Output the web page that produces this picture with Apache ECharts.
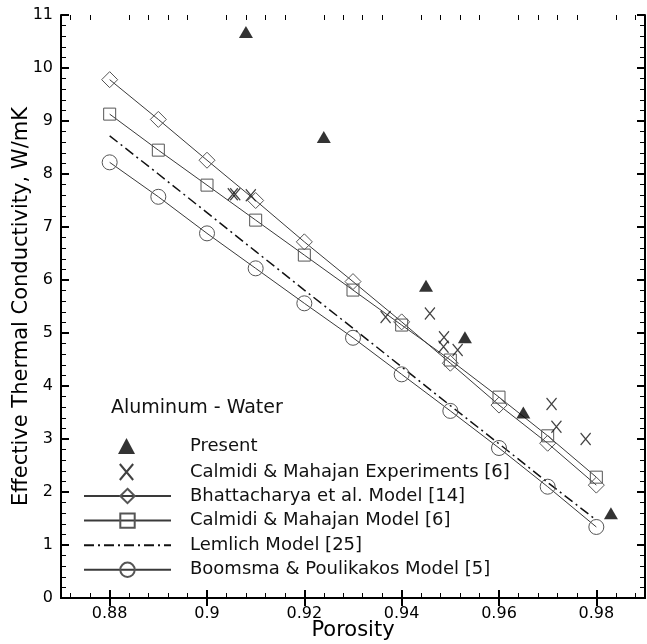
<!DOCTYPE html>
<html>
<head>
<meta charset="utf-8">
<script src="https://cdn.jsdelivr.net/npm/echarts@6/dist/echarts.min.js"></script>
<style>
  html, body { margin: 0; padding: 0; background: #fff; }
  #chart-panel { width: 647px; height: 644px; }
</style>
</head>
<body>
<div id="chart-panel"></div>
<script>
// model curves, evaluated at these porosities
const porosity = [0.88, 0.89, 0.90, 0.91, 0.92, 0.93, 0.94, 0.95, 0.96, 0.97, 0.98];
const bhattacharya = [9.78, 9.03, 8.26, 7.50, 6.72, 5.97, 5.21, 4.43, 3.64, 2.92, 2.13];
const calmidiModel = [9.13, 8.45, 7.79, 7.13, 6.47, 5.81, 5.15, 4.49, 3.79, 3.06, 2.28];
const lemlich = [8.72, 8.00, 7.27, 6.54, 5.81, 5.09, 4.36, 3.63, 2.91, 2.18, 1.47];
const boomsma = [8.22, 7.57, 6.88, 6.22, 5.56, 4.91, 4.22, 3.53, 2.83, 2.10, 1.34];

// measured points
const presentX = [0.908, 0.924, 0.945, 0.953, 0.965, 0.983];
const presentY = [10.68, 8.70, 5.89, 4.92, 3.50, 1.60];
const expX = [0.9053, 0.9058, 0.9090, 0.9367, 0.9458, 0.9487, 0.9486, 0.9515, 0.9708, 0.9718, 0.9778];
const expY = [7.62, 7.62, 7.60, 5.30, 5.37, 4.92, 4.74, 4.68, 3.66, 3.23, 3.00];

const xMajor = [0.88, 0.90, 0.92, 0.94, 0.96, 0.98];
const xMinor = [];
for (let i = 0; i < 30; i++) {
  const k = 872 + 4 * i;
  if (k % 20 !== 0) xMinor.push(k / 1000);
}

const FONT = '"DejaVu Sans", sans-serif';
const zip = (xs, ys) => xs.map((x, i) => [x, ys[i]]);

var myChart = echarts.init(document.getElementById('chart-panel'));

const grid = { left: 61, right: 2, top: 15, bottom: 46, outerBoundsMode: 'none', containLabel: false };
const frame = { lineStyle: { color: '#000', width: 2 } };
const majorTick = values => ({ show: true, inside: true, length: 8, customValues: values, lineStyle: { color: '#000', width: 2 } });
const minorTick = values => ({ show: true, inside: true, length: 5, customValues: values, lineStyle: { color: '#000', width: 1 } });
const legendFont = { fontFamily: FONT, fontSize: 18, color: '#111' };

function modelSeries(name, ys, symbol, size) {
  return {
    name: name,
    type: 'line',
    data: zip(porosity, ys),
    symbol: symbol,
    symbolSize: size,
    showAllSymbol: true,
    lineStyle: { color: '#3a3a3a', width: 1 },
    itemStyle: { color: 'rgba(255,255,255,0)', borderColor: '#555', borderWidth: 1 },
    emphasis: { disabled: true },
    z: 3
  };
}

myChart.setOption({
  animation: false,
  backgroundColor: '#fff',
  textStyle: { fontFamily: FONT },
  grid: [grid, grid],
  title: {
    text: 'Aluminum - Water',
    left: 106, top: 394,
    textStyle: { fontFamily: FONT, fontSize: 19, fontWeight: 'normal', color: '#111' }
  },
  legend: [
    {
      orient: 'vertical',
      left: 113, top: 432,
      itemWidth: 17, itemHeight: 16, itemGap: 8,
      textStyle: Object.assign({ padding: [0, 0, 0, 50] }, legendFont),
      data: ['Present', 'Calmidi & Mahajan Experiments [6]']
    },
    {
      orient: 'vertical',
      left: 78, top: 482,
      itemWidth: 87, itemHeight: 18, itemGap: 6.6,
      textStyle: Object.assign({ padding: [0, 0, 0, 14] }, legendFont),
      data: ['Bhattacharya et al. Model [14]', 'Calmidi & Mahajan Model [6]',
             { name: 'Lemlich Model [25]', itemStyle: { opacity: 0 } },
             'Boomsma & Poulikakos Model [5]']
    }
  ],
  xAxis: [
    {
      gridIndex: 0, type: 'value', min: 0.87, max: 0.99, position: 'bottom',
      name: 'Porosity', nameLocation: 'middle', nameGap: 22, nameMoveOverlap: false,
      nameTextStyle: { fontFamily: FONT, fontSize: 21, color: '#000' },
      axisLine: frame,
      axisTick: majorTick(xMajor),
      axisLabel: {
        customValues: xMajor, margin: 8, fontSize: 16, color: '#000', fontFamily: FONT,
        formatter: v => v.toFixed(2).replace(/0$/, '')
      },
      splitLine: { show: false }
    },
    {
      gridIndex: 0, type: 'value', min: 0.87, max: 0.99, position: 'top',
      axisLine: frame,
      axisTick: majorTick(xMajor),
      axisLabel: { show: false },
      splitLine: { show: false }
    },
    {
      gridIndex: 1, type: 'value', min: 0.87, max: 0.99, position: 'bottom',
      axisLine: { show: false },
      axisTick: minorTick(xMinor),
      axisLabel: { show: false },
      splitLine: { show: false }
    },
    {
      gridIndex: 1, type: 'value', min: 0.87, max: 0.99, position: 'top',
      axisLine: { show: false },
      axisTick: minorTick(xMinor),
      axisLabel: { show: false },
      splitLine: { show: false }
    }
  ],
  yAxis: [
    {
      gridIndex: 0, type: 'value', min: 0, max: 11, interval: 1, position: 'left',
      name: 'Effective Thermal Conductivity, W/mK', nameLocation: 'middle', nameGap: 29, nameMoveOverlap: false,
      nameTextStyle: { fontFamily: FONT, fontSize: 21, color: '#000' },
      axisLine: frame,
      axisTick: { inside: true, length: 8, lineStyle: { color: '#000', width: 2 } },
      minorTick: { show: true, splitNumber: 5, length: 5, lineStyle: { color: '#000', width: 1 } },
      axisLabel: { margin: 8, fontSize: 16, color: '#000', fontFamily: FONT },
      splitLine: { show: false }
    },
    {
      gridIndex: 0, type: 'value', min: 0, max: 11, interval: 1, position: 'right',
      axisLine: frame,
      axisTick: { inside: true, length: 8, lineStyle: { color: '#000', width: 2 } },
      minorTick: { show: true, splitNumber: 5, length: 5, lineStyle: { color: '#000', width: 1 } },
      axisLabel: { show: false },
      splitLine: { show: false }
    },
    { gridIndex: 1, type: 'value', min: 0, max: 11, show: false }
  ],
  series: [
    {
      name: 'Present',
      type: 'scatter',
      data: zip(presentX, presentY),
      symbol: 'triangle',
      symbolSize: [14, 12],
      itemStyle: { color: '#000' },
      z: 5
    },
    {
      name: 'Calmidi & Mahajan Experiments [6]',
      type: 'scatter',
      data: zip(expX, expY),
      symbol: 'path://M0,0L10,12M10,0L0,12',
      symbolSize: [10, 12],
      itemStyle: { color: 'rgba(0,0,0,0)', borderColor: '#111', borderWidth: 1.3 },
      z: 5
    },
    modelSeries('Bhattacharya et al. Model [14]', bhattacharya, 'diamond', 16),
    modelSeries('Calmidi & Mahajan Model [6]', calmidiModel, 'rect', 12),
    {
      name: 'Lemlich Model [25]',
      type: 'line',
      data: zip(porosity, lemlich),
      symbol: 'none',
      lineStyle: { color: '#111', width: 1.5, type: [10, 4, 2, 4] },
      itemStyle: { color: '#111' },
      z: 3
    },
    modelSeries('Boomsma & Poulikakos Model [5]', boomsma, 'circle', 15)
  ]
});
</script>
</body>
</html>
